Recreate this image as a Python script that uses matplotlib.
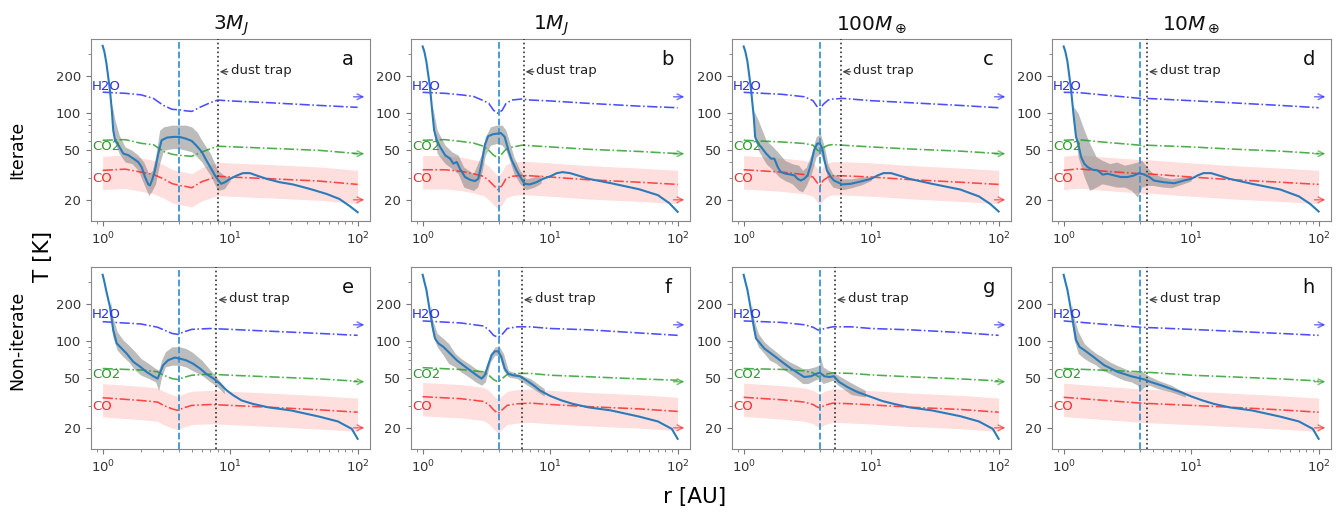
import numpy as np
import matplotlib
matplotlib.use("Agg")
import matplotlib.pyplot as plt
from matplotlib.ticker import FixedLocator, FixedFormatter, LogLocator, NullFormatter

# ---------------------------------------------------------------- data
# midplane temperature profiles T(r) [K] at radius r [AU]
r_a = [1.0, 1.03, 1.07, 1.14, 1.18, 1.21, 1.25, 1.33, 1.45, 1.59, 1.74, 1.9, 2.02, 2.15, 2.28, 2.35,
       2.46, 2.57, 2.73, 2.9, 3.2, 3.6, 4.0, 4.5, 5.0, 5.4, 6.0, 6.5, 7.1, 7.6, 8.1, 8.5, 9.1, 10,
       11.3, 12.6, 14.3, 16.1, 19.3, 24.5, 31, 42, 57, 72, 86, 100]
t_a = [347, 313, 252, 153, 105, 72.6, 60.3, 55, 47.1, 45.7, 42.9, 40.3, 36.7, 30.5, 26.6, 26.1,
       29.5, 34.5, 47.1, 60.3, 63.4, 64.2, 64.2, 62.1, 59.5, 55, 48.6, 41.6, 35.6, 31.4, 28.6, 26.9,
       27.7, 29.5, 31.4, 32.8, 32.8, 31.4, 29.5, 27.7, 26.6, 24.5, 22.3, 20.3, 17.9, 15.9]

r_b = [1.0, 1.03, 1.07, 1.14, 1.2, 1.23, 1.29, 1.37, 1.5, 1.64, 1.74, 1.85, 1.96, 2.15, 2.35, 2.57,
       2.73, 2.9, 3.07, 3.26, 3.57, 3.9, 4.1, 4.4, 4.7, 5.0, 5.45, 5.95, 6.3, 6.9, 7.8, 8.8, 10,
       11.3, 12.5, 14.3, 17, 20, 30, 50, 70, 86, 100]
t_b = [343, 313, 258, 163, 93, 72.6, 60.3, 53.3, 45.7, 42.9, 39.1, 40.3, 35.6, 30.5, 29, 28.3,
       29.5, 39.1, 55, 65, 67.5, 68.3, 69, 64.2, 50.1, 41.6, 34.5, 29.5, 26.9, 26.6, 27.7, 29.5, 30.9,
       32.8, 33.4, 32.8, 31.1, 29.5, 27.2, 24.3, 21.8, 18.8, 16]

r_c = [1.0, 1.03, 1.07, 1.14, 1.2, 1.23, 1.29, 1.37, 1.5, 1.64, 1.74, 1.85, 1.96, 2.15, 2.35, 2.5,
       2.65, 2.8, 2.98, 3.17, 3.38, 3.57, 3.78, 3.96, 4.14, 4.3, 4.5, 4.84, 5.1, 5.45, 5.95, 6.9,
       8.3, 10, 11.3, 12.5, 14.3, 17, 20, 30, 50, 70, 86, 100]
t_c = [343, 313, 260, 158, 93, 64.2, 56.8, 53.3, 47.1, 42.9, 42.9, 36.7, 33.4, 32.4, 31.9, 31.4,
       29.5, 28.6, 29.5, 31.4, 39.1, 50.1, 56.8, 56.8, 51.6, 41.6, 34.5, 30.5, 28.6, 27.7, 26.6, 26.9,
       28.1, 29.5, 31.5, 32.8, 32.8, 31.1, 29.5, 26.9, 24.2, 21.3, 18.5, 16.1]

r_d = [1.0, 1.03, 1.07, 1.14, 1.2, 1.25, 1.3, 1.37, 1.45, 1.54, 1.69, 1.85, 2.02, 2.21, 2.5, 2.8,
       3.17, 3.57, 3.9, 4.3, 4.7, 5.1, 6.1, 7.4, 8.8, 10, 11.3, 12.5, 14.3, 17, 20, 30, 50, 70, 86, 100]
t_d = [343, 313, 260, 158, 93, 64.2, 56.8, 44.3, 39.1, 36.7, 34.9, 34.5, 31.9, 32.4, 31.4, 30.5,
       30.5, 31.4, 32.8, 31.9, 30.5, 28.6, 27.7, 27.2, 28.6, 29.5, 31.5, 32.8, 32.8, 31.1, 29.5, 26.9,
       24.2, 21.3, 18.5, 16.1]

r_e = [1.0, 1.03, 1.07, 1.14, 1.21, 1.29, 1.41, 1.54, 1.74, 1.98, 2.21, 2.5, 2.7, 2.8, 2.98, 3.26,
       3.68, 4.0, 4.5, 5.1, 5.8, 6.5, 7.4, 8.3, 9.4, 10.6, 12.3, 15, 20, 30, 50, 70, 90, 100]
t_e = [341, 301, 250, 189, 122, 95.5, 87, 79.3, 67.9, 61.8, 56.3, 52, 49.8, 54.6, 63.8, 70,
       73.5, 72.2, 70, 65.8, 60, 54.3, 49.8, 45.4, 40, 36.5, 33.2, 31.2, 29.2, 27.6, 24.6, 22.5, 19.6, 16.3]

r_f = [1.0, 1.03, 1.07, 1.14, 1.2, 1.25, 1.33, 1.45, 1.64, 1.85, 2.08, 2.35, 2.65, 2.9, 3.07, 3.26,
       3.47, 3.68, 3.9, 4.14, 4.4, 4.7, 5.1, 5.8, 6.5, 7.4, 8.3, 10, 12.3, 15, 20, 30, 50, 70, 90, 100]
t_f = [341, 301, 258, 172, 127, 104.8, 95.5, 89.8, 79.3, 70, 63.8, 58.1, 53, 49.8, 53, 63.8,
       76.9, 82.6, 82.6, 74.5, 60, 54.3, 53, 52, 48.2, 44, 40, 36.1, 33.2, 31.2, 29.2, 27.6, 24.6,
       22.5, 19.6, 16.3]

r_g = [1.0, 1.03, 1.07, 1.14, 1.2, 1.25, 1.33, 1.45, 1.64, 1.85, 2.08, 2.35, 2.65, 2.98, 3.38, 3.68,
       3.96, 4.3, 4.7, 5.1, 5.6, 6.5, 7.8, 10, 12.3, 15, 20, 30, 50, 70, 90, 100]
t_g = [341, 301, 258, 178, 130, 104.8, 97, 87, 79.3, 72.2, 65.8, 60, 55.5, 51.3, 52, 54.3,
       55.5, 52, 51.3, 52, 46.8, 42.6, 38.8, 35.4, 32.8, 31.2, 29.2, 27.6, 24.8, 22.5, 19.6, 16.3]

r_h = [1.0, 1.03, 1.07, 1.14, 1.2, 1.25, 1.33, 1.45, 1.64, 1.85, 2.08, 2.35, 2.65, 2.98, 3.38, 3.78,
       4.3, 4.8, 5.8, 6.9, 8.3, 10, 12.3, 15, 20, 30, 50, 70, 90, 100]
t_h = [341, 301, 258, 178, 130, 102, 89.8, 84.4, 76.9, 70, 63.8, 60, 56.3, 54.3, 52, 50.6,
       49, 46.8, 44, 41.3, 38.8, 35.8, 33.2, 31.2, 29.2, 27.6, 24.6, 22.5, 19.6, 16.3]

# temperature scatter (lower / upper envelope) where the profile fluctuates
sr_a = [1.18, 1.25, 1.35, 1.5, 1.7, 1.9, 2.1, 2.3, 2.45, 2.6, 2.8, 3.0, 3.5, 4.0, 4.5, 5.0, 5.5, 6.0,
        7.0, 8.0, 9.0, 10.0]
shi_a = [119, 87.5, 66, 53.3, 50.1, 45.7, 40.3, 32.4, 34.5, 44.3, 72.6, 77.3, 79.8, 79.8, 79.8, 77.3,
         70.4, 60.3, 47.1, 34.5, 31.4, 30.5]
slo_a = [93, 56.8, 47.1, 40.3, 39.1, 34.5, 26.9, 21.6, 23.8, 26.9, 39.1, 50.1, 51.6, 51.6, 50.1, 48.6,
         44.3, 40.3, 31.4, 23.8, 24.5, 28.6]

sr_b = [1.2, 1.3, 1.5, 1.7, 1.9, 2.1, 2.3, 2.5, 2.7, 2.9, 3.1, 3.4, 3.8, 4.2, 4.5, 4.8, 5.2, 5.8, 6.5,
        7.5, 8.5]
shi_b = [112, 72.6, 55, 48.6, 45.7, 36.7, 34.5, 32.4, 39.1, 47.1, 64.2, 77.3, 79.8, 79.8, 72.6, 58.5,
         44.3, 34.5, 29.5, 30.5, 32]
slo_b = [77.3, 47.1, 39.1, 35.6, 32.4, 25.3, 24.5, 23.8, 25.3, 32.4, 45.7, 55, 56.8, 55, 50.1, 41.6,
         32.4, 26.9, 24.1, 25.3, 27.2]

sr_c = [1.2, 1.3, 1.5, 1.7, 1.9, 2.1, 2.4, 2.7, 2.9, 3.1, 3.4, 3.7, 4.0, 4.3, 4.6, 5.0, 6.0, 7.0, 8.5, 10]
shi_c = [105, 87.5, 60.3, 53.3, 47.1, 41.6, 39.1, 38, 34.5, 36.7, 47.1, 64.2, 68.3, 53.3, 38, 32.4,
         29.5, 29.5, 30.5, 30.9]
slo_c = [77.3, 50.1, 39.1, 34.5, 30.5, 28.6, 26.9, 23.8, 23.2, 26.1, 32.4, 44.3, 47.1, 39.1, 28.6, 25.3,
         24.1, 25, 26.5, 28.6]

sr_d = [1.2, 1.3, 1.45, 1.6, 1.8, 2.0, 2.3, 2.6, 3.0, 3.4, 3.8, 4.1, 4.5, 5.0, 6.0, 7.0, 8.5, 10]
shi_d = [112, 99, 72.6, 56.8, 44.3, 41.6, 39.1, 40.3, 38, 39.1, 40.3, 41.6, 36.7, 32.4, 30.5, 29.5,
         30.5, 30.9]
slo_d = [77.3, 44.3, 30.5, 23.8, 25.3, 26.9, 26.1, 25.3, 25.3, 23.8, 21, 25.3, 26.1, 26.1, 25.3, 25,
         26.7, 28.3]

sr_e = [1.15, 1.2, 1.3, 1.45, 1.6, 1.8, 2.0, 2.3, 2.6, 2.75, 2.9, 3.1, 3.5, 4.0, 4.5, 5.0, 6.0, 7.0,
        8.0, 9.0]
shi_e = [214, 157, 118.7, 101.6, 92.6, 81.8, 72.2, 65.8, 60, 58.1, 70, 81.8, 89.8, 89.8, 87, 81.8,
         70, 58.1, 49.8, 42.6]
slo_e = [157, 108, 84.4, 74.5, 67.9, 58.1, 53, 49.8, 46.8, 40, 51.3, 61.8, 63.8, 63.8, 61.8, 58.1,
         53, 46.8, 42.6, 37.6]

sr_f = [1.15, 1.2, 1.3, 1.45, 1.6, 1.8, 2.0, 2.3, 2.6, 2.9, 3.1, 3.4, 3.7, 4.0, 4.3, 4.7, 5.5, 7.0, 9.0]
shi_f = [200, 147.5, 115, 104.8, 95.5, 79.3, 72.2, 65.8, 60, 56.3, 58.1, 79.3, 89.8, 89.8, 79.3, 58.1,
         54.6, 49.8, 41.3]
slo_f = [147.5, 111.5, 89.8, 76.9, 65.8, 61.8, 56.3, 51.3, 46.8, 44, 46.8, 67.9, 76.9, 75.4, 58, 51.3,
         49.8, 42.5, 36]

sr_g = [1.15, 1.2, 1.3, 1.45, 1.6, 1.8, 2.0, 2.3, 2.6, 2.9, 3.2, 3.6, 3.9, 4.0, 4.2, 4.6, 5.0, 5.5,
        7.0, 9.0]
shi_g = [200, 152, 115, 98.5, 89.8, 81.8, 74.5, 67.9, 63.8, 60, 60, 61.8, 63.8, 74.5, 61.8, 58.1,
         56.3, 53, 45.9, 40]
slo_g = [152, 115, 89.8, 79.3, 70, 65.8, 60, 54.6, 49.8, 45.4, 45.4, 48.2, 49.8, 48.2, 45.4, 46.8,
         48.2, 44, 37, 35.4]

sr_h = [1.15, 1.2, 1.3, 1.45, 1.6, 1.8, 2.0, 2.3, 2.6, 3.0, 3.4, 3.8, 4.0, 4.3, 4.7, 5.5, 7.0, 9.0]
shi_h = [200, 157, 118.7, 95.5, 87, 79.3, 74.5, 67.9, 63.8, 60, 56.3, 56.3, 58.1, 55.3, 52, 48.2,
         44, 38.1]
slo_h = [147.5, 104.8, 79.3, 72.2, 67.9, 63.8, 58.1, 54.6, 51.3, 48.2, 46.8, 44, 40, 42.6, 44, 41.3,
         38.8, 35.4]

# sublimation temperatures of H2O, CO2 and CO ices [K]
ir_a = [1, 1.5, 2, 2.5, 3, 3.5, 4, 4.5, 5, 6, 7, 8, 10, 20, 50, 100]
h2o_a = [147, 144, 140, 131, 115, 107, 106, 104, 103, 113, 121, 127, 125, 121, 115, 111]
co2_a = [60.3, 61, 57, 55.5, 49, 46.5, 45.6, 45.2, 44.8, 48.5, 51.5, 54, 53.5, 52, 50, 47.1]
co_a = [34.5, 35.3, 33.4, 32, 29.5, 27, 26.1, 25.6, 25, 28, 29.5, 30.9, 30.5, 29.6, 28.3, 26.6]

ir_b = [1, 1.5, 2, 2.5, 3, 3.3, 3.6, 3.9, 4.2, 4.5, 5, 6, 7, 10, 20, 50, 100]
h2o_b = [146.6, 143.9, 140, 136, 125.6, 119.5, 105, 99.3, 105, 119, 127.1, 129.5, 127.1, 125, 119.5,
         113.5, 110.2]
co2_b = [60.3, 61, 59, 57.3, 54, 50, 45.7, 43.6, 47.1, 51, 53, 55, 54.5, 53.3, 51, 49, 47.1]
co_b = [34.9, 34.9, 33.9, 32.4, 30.9, 28.6, 26.1, 24.1, 26.1, 29.5, 30.9, 31.4, 31.2, 30.5, 29, 27.7, 26.6]

ir_c = [1, 2, 3, 3.5, 3.8, 4.0, 4.2, 4.6, 5, 6, 10, 20, 50, 100]
h2o_c = [146.6, 141.3, 135, 125.6, 111, 108, 117, 127.1, 129.5, 131, 125.6, 121, 115, 110.2]
co2_c = [60.3, 58.4, 56.8, 55, 50.1, 48.6, 52.5, 55, 55.7, 55, 53.3, 51.3, 49.3, 47.1]
co_c = [34.9, 33.4, 31.9, 30.5, 27.2, 26.1, 28.6, 30.5, 31.2, 31.2, 30.5, 29.1, 27.7, 26.6]

ir_d = [1, 1.3, 2, 4, 4.2, 4.5, 10, 20, 50, 100]
h2o_d = [146.6, 146, 140, 131, 127, 131, 125.6, 121, 115, 110.2]
co2_d = [60.3, 61, 58.4, 55, 53.3, 55, 53.3, 51.3, 49.3, 47.1]
co_d = [34.5, 35.5, 34.1, 32.4, 31.9, 32.4, 30.5, 29.1, 27.7, 26.6]

ir_e = [1, 2, 2.7, 3, 3.5, 3.9, 4.3, 5, 7, 10, 20, 50, 100]
h2o_e = [143, 137, 129, 123, 115, 113, 118, 124, 126, 124, 120, 115, 111]
co2_e = [60, 58.4, 56.5, 53, 49.8, 48.9, 50.8, 53, 54, 53, 51.5, 49.5, 47.4]
co_e = [34.9, 33.2, 32.2, 30.3, 28.4, 27.6, 28.9, 30.3, 30.8, 30.3, 29.3, 27.9, 26.7]

ir_f = [1, 2, 3, 3.3, 3.6, 3.9, 4.2, 4.6, 5.5, 7, 10, 20, 50, 100]
h2o_f = [145, 139.6, 132, 123, 111, 107, 113, 126, 130, 130, 126, 123, 116, 111]
co2_f = [61, 58.9, 56.5, 53, 48.9, 46.8, 49.8, 53.7, 54.8, 54.8, 53, 51.5, 49.5, 48.3]
co_f = [35.6, 34.3, 32.6, 30.8, 27.9, 26.1, 27.9, 30.3, 31.2, 31.6, 30.8, 29.6, 28.4, 27.1]

ir_g = [1, 2, 3, 3.5, 3.8, 4.0, 4.3, 5, 7, 10, 20, 50, 100]
h2o_g = [145, 141, 135, 129, 123, 122, 126, 130, 130, 126, 123, 117, 111]
co2_g = [60, 59, 57.5, 55.4, 52, 51.5, 53.7, 55.4, 54.8, 53.3, 51.5, 49.5, 47.7]
co_g = [35.2, 33.6, 32.2, 30.8, 29.3, 28.9, 30.3, 31.6, 31.2, 30.6, 29.3, 28.1, 26.7]

ir_h = [1, 4, 10, 20, 50, 100]
h2o_h = [145, 129, 124, 120, 115, 111]
co2_h = [60, 56.5, 53, 51.5, 49.5, 47.7]
co_h = [35.2, 31.6, 30.3, 29.3, 27.9, 26.7]

# CO sublimation range relative to the CO line
CO_RANGE = (0.7, 1.3)

PLANET_R = 4.0
TRAP_R = [8.0, 6.2, 5.75, 4.5, 7.8, 6.0, 5.2, 4.5]
ARROW_T = [135, 47, 20]            # H2O, CO2, CO
SPECIES = ["H2O", "CO2", "CO"]
SPECIES_LABEL_T = [162, 54, 29.5]
TITLES = [r"3$M_J$", r"1$M_J$", r"100$M_\oplus$", r"10$M_\oplus$"]
LETTERS = ["a", "b", "c", "d", "e", "f", "g", "h"]
ROW_LABELS = ["Iterate", "Non-iterate"]
YTICKS = [20, 50, 100, 200]

profiles = [(r_a, t_a), (r_b, t_b), (r_c, t_c), (r_d, t_d),
            (r_e, t_e), (r_f, t_f), (r_g, t_g), (r_h, t_h)]
scatter = [(sr_a, slo_a, shi_a), (sr_b, slo_b, shi_b), (sr_c, slo_c, shi_c), (sr_d, slo_d, shi_d),
           (sr_e, slo_e, shi_e), (sr_f, slo_f, shi_f), (sr_g, slo_g, shi_g), (sr_h, slo_h, shi_h)]
ices = [(ir_a, h2o_a, co2_a, co_a), (ir_b, h2o_b, co2_b, co_b), (ir_c, h2o_c, co2_c, co_c),
        (ir_d, h2o_d, co2_d, co_d), (ir_e, h2o_e, co2_e, co_e), (ir_f, h2o_f, co2_f, co_f),
        (ir_g, h2o_g, co2_g, co_g), (ir_h, h2o_h, co2_h, co_h)]

# ---------------------------------------------------------------- figure
W, H = 1343, 512
fig = plt.figure(figsize=(W / 100, H / 100), dpi=100)

col_left = [91, 411, 732, 1052]
ax_w = 279
row_top = [39, 267]
ax_h = 182

line_cols = ["#2020ff", "#1f9a1f", "#ff2020"]
text_cols = ["#2a2aff", "#2a9a2a", "#ff2a2a"]
grey = "#444444"

for i in range(8):
    row, col = divmod(i, 4)
    ax = fig.add_axes([col_left[col] / W, 1 - (row_top[row] + ax_h) / H, ax_w / W, ax_h / H])
    ax.set_xscale("log")
    ax.set_yscale("log")

    ir, h2o, co2, co = (np.asarray(v, float) for v in ices[i])
    ax.fill_between(ir, co * CO_RANGE[0], co * CO_RANGE[1], color="#ff0000", alpha=0.13, lw=0, zorder=1)

    sr, slo, shi = scatter[i]
    ax.fill_between(sr, slo, shi, color="#808080", alpha=0.52, lw=0, zorder=2)

    for vals, c in zip((h2o, co2, co), line_cols):
        ax.plot(ir, vals, color=c, ls="-.", lw=1.15, alpha=0.8, zorder=3)

    r, t = profiles[i]
    ax.plot(r, t, color="#2b7bba", lw=1.5, zorder=4)

    ax.axvline(PLANET_R, color="#3b94d4", ls="--", lw=1.3, zorder=3)
    ax.axvline(TRAP_R[i], color="#333333", ls=":", lw=1.2, zorder=3)

    ax.annotate("", xy=(TRAP_R[i] * 1.035, 0.82), xytext=(TRAP_R[i] * 1.2, 0.82),
                xycoords=("data", "axes fraction"), textcoords=("data", "axes fraction"),
                arrowprops=dict(arrowstyle="->", color=grey, lw=0.9, shrinkA=0, shrinkB=0))
    ax.text(TRAP_R[i] * 1.26, 0.825, "dust trap", transform=ax.get_xaxis_transform(),
            fontsize=9.5, color="#222222", ha="left", va="center")

    for name, ty, ta, c, tc in zip(SPECIES, SPECIES_LABEL_T, ARROW_T, line_cols, text_cols):
        ax.text(0.825, ty, name, color=tc, fontsize=9.5, ha="left", va="center", zorder=5)
        ax.annotate("", xy=(113, ta), xytext=(93, ta),
                    arrowprops=dict(arrowstyle="->", color=c, lw=1.1, alpha=0.6,
                                    shrinkA=0, shrinkB=0))

    ax.text(0.92, 0.885, LETTERS[i], transform=ax.transAxes, fontsize=14,
            ha="center", va="center", color="#111111")

    ax.set_xlim(0.81, 125)
    ax.set_ylim(13.5, 394)
    ax.yaxis.set_major_locator(FixedLocator(YTICKS))
    ax.yaxis.set_major_formatter(FixedFormatter([str(v) for v in YTICKS]))
    ax.yaxis.set_minor_locator(LogLocator(base=10, subs=np.arange(2, 10)))
    ax.yaxis.set_minor_formatter(NullFormatter())
    ax.tick_params(which="both", colors="#777777", labelcolor="#333333", labelsize=9.5)
    for sp in ax.spines.values():
        sp.set_color("#888888")

    if row == 0:
        ax.set_title(TITLES[col], fontsize=14.5, pad=7, color="#111111")

fig.text(17 / W, 1 - 150 / H, ROW_LABELS[0], rotation=90, ha="center", va="center", fontsize=12.5)
fig.text(17 / W, 1 - 340 / H, ROW_LABELS[1], rotation=90, ha="center", va="center", fontsize=12.5)
fig.text(43 / W, 1 - 256 / H, "T [K]", rotation=90, ha="center", va="center", fontsize=15.5)
fig.text(695 / W, 1 - 497 / H, "r [AU]", ha="center", va="center", fontsize=15.5)

fig.savefig("out.png", dpi=100)
